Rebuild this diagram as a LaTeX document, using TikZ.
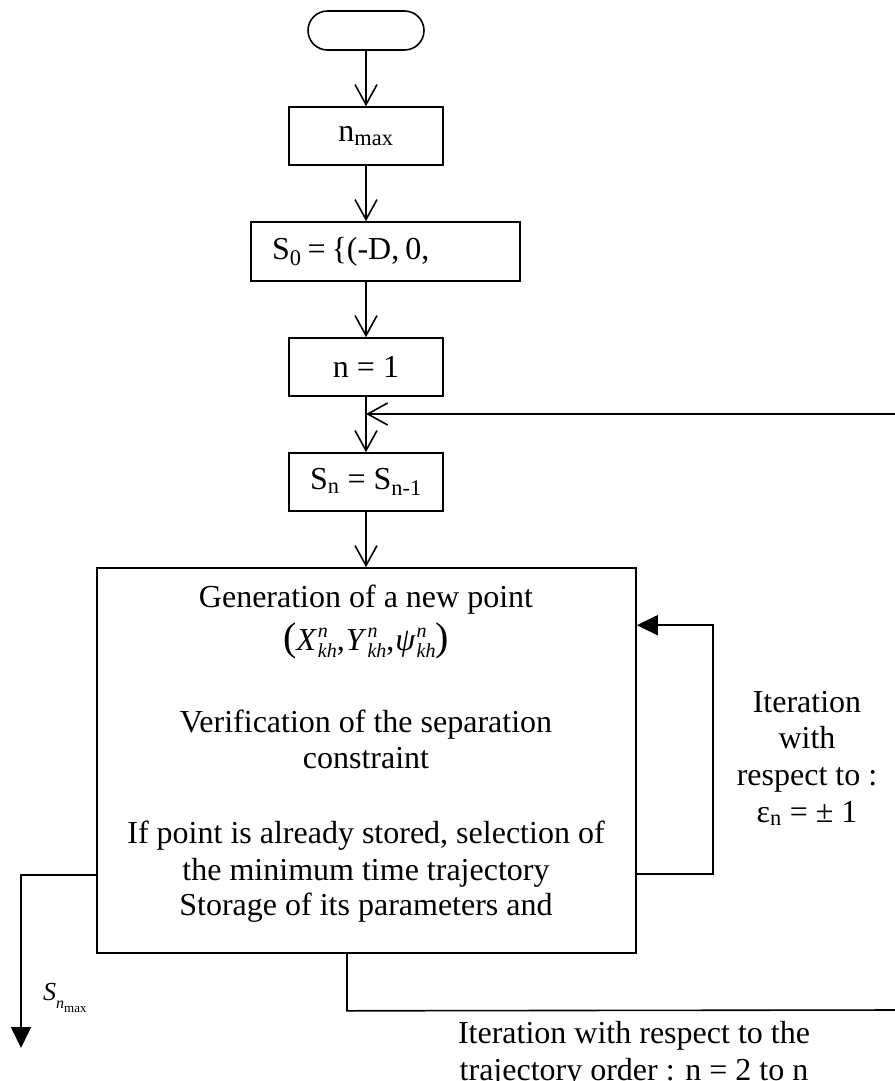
\documentclass[tikz,border=0pt]{standalone}
\usepackage{fontspec}
\setmainfont{Liberation Serif}
\usetikzlibrary{arrows.meta,calc}
\newcommand\fsz{\fontsize{32}{36.7}\selectfont}
\newcommand\smallit[1]{{\fontsize{20}{20}\selectfont\itshape #1}}
\newcommand\ssx[3]{\textit{#1}\kern1pt\rlap{\raisebox{13pt}{\smallit{#2}}}\raisebox{-7pt}{\smallit{#3}}}
\newcommand\bigpar[1]{{\fontsize{40}{40}\selectfont #1}}
\tikzset{
  box/.style={draw, line width=1.6pt, inner sep=0pt, font=\fsz},
  openarrow/.style={line width=1.6pt, -{Straight Barb[length=20pt,width=22pt]}},
  filledarrow/.style={line width=1.6pt, -{Triangle[length=21pt,width=20pt]}},
  txt/.style={anchor=base, inner sep=0pt, font=\fsz}
}
\begin{document}
\begin{tikzpicture}[x=1pt,y=-1pt]
\path[use as bounding box, fill=white] (0,0) rectangle (894,1081);
% boxes
\node[box, rounded corners=19.5pt, minimum width=116pt, minimum height=39pt] (term) at (366,30.5) {};
\node[box, minimum width=154pt, minimum height=58pt] (nmax) at (366,136) {n\textsubscript{max}};
\node[box, minimum width=269pt, minimum height=59pt, text width=227pt, align=left] (s0) at (385.5,251.5) {S\textsubscript{0}\hspace{6pt}=\hspace{6pt}\{(-D,\hspace{6pt}0,};
\node[box, minimum width=154pt, minimum height=58pt] (n1) at (366,367) {n = 1};
\node[box, minimum width=154pt, minimum height=58pt] (sn) at (366,482) {S\textsubscript{n} = S\textsubscript{n-1}};
\node[box, minimum width=539pt, minimum height=385pt] (big) at (366.5,760.5) {};
% text inside the big box
\node[txt] (g1) at (366,607) {Generation of a new point};
\node[txt] (g2) at (366,650) {\bigpar{(}\ssx{X}{n}{kh},\kern1pt\ssx{Y}{n}{kh},\kern1pt\ssx{ψ}{n}{kh}\bigpar{)}};
\node[txt] (v1) at (366,732) {Verification of the separation};
\node[txt] (v2) at (366,768) {constraint};
\node[txt] (i1) at (366,843) {If point is already stored, selection of};
\node[txt] (i2) at (366,880) {the minimum time trajectory};
\node[txt] (i3) at (366,915) {Storage of its parameters and};
% right label
\node[txt] (r1) at (807,712) {Iteration};
\node[txt] (r2) at (807,748) {with};
\node[txt] (r3) at (807,785) {respect to :};
\node[txt] (r4) at (807,822) {ε\textsubscript{n} = ± 1};
% bottom labels
\node[txt] (b1) at (634,1043) {Iteration with respect to the};
\node[txt] (b2) at (634,1080) {trajectory order : n = 2 to n};
\node[anchor=base west, inner sep=0pt, font=\fontsize{26}{26}\selectfont] (snmax) at (43,1000)
  {\textit{S}\raisebox{-8pt}{{\fontsize{16}{16}\selectfont\itshape n}\raisebox{-4pt}{\fontsize{13}{13}\selectfont max}}};
% coordinates
\coordinate (join) at (366,414);
\coordinate (out) at (21,1048);
% connectors
\draw[openarrow] (term) -- (nmax);
\draw[openarrow] (nmax.south) -- (nmax.south |- s0.north);
\draw[openarrow] (n1.north |- s0.south) -- (n1.north);
\draw[openarrow] (n1.south) -- (sn.north);
\draw[openarrow] (sn.south) -- (sn.south |- big.north);
\draw[filledarrow] ([yshift=-307pt]big.north east) -- ++(76,0) |- ([yshift=-58pt]big.north east);
\draw[filledarrow] ([yshift=-308pt]big.north west) -| (out);
\draw[openarrow] ([xshift=-19.5pt]big.south) -- ++(0,57) -- (900,1010) |- (join);
\end{tikzpicture}
\end{document}
